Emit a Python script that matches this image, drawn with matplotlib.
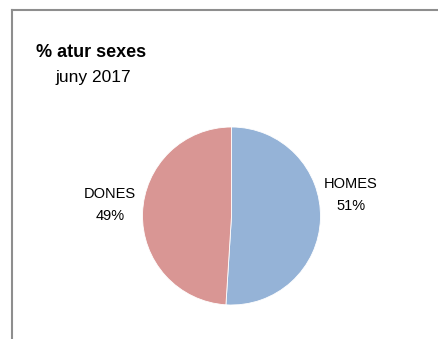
import matplotlib.pyplot as plt
from matplotlib.lines import Line2D

# data
categories = ['HOMES', 'DONES']
values = [51, 49]
colors = ['#95b3d7', '#d99694']
title = '% atur sexes'
subtitle = 'juny 2017'

W, H = 438, 339
plt.rcParams['font.family'] = ['Liberation Sans', 'DejaVu Sans']

fig = plt.figure(figsize=(W / 100, H / 100), dpi=100)

def fx(px):
    return px / W

def fy(py):
    return 1 - py / H

# chart frame (top and left edges only visible)
fig.add_artist(Line2D([fx(12), fx(W)], [fy(10), fy(10)], color='#8e8e8e', lw=1.5))
fig.add_artist(Line2D([fx(12), fx(12)], [fy(10), fy(H)], color='#8e8e8e', lw=1.5))

# pie
cx, cy, r = 231.5, 216, 89
ax = fig.add_axes([fx(cx - r), fy(cy + r), 2 * r / W, 2 * r / H])
wedges, _ = ax.pie(values, colors=colors, startangle=90, counterclock=False,
                   radius=1, wedgeprops=dict(edgecolor='white', linewidth=0.6))
ax.set_xlim(-1, 1)
ax.set_ylim(-1, 1)
ax.set_aspect('equal')
ax.axis('off')

# titles
fig.text(fx(36), fy(57), title, fontsize=13, fontweight='bold', va='baseline', ha='left')
fig.text(fx(55), fy(82), subtitle, fontsize=12.5, va='baseline', ha='left')

# data labels
label_pos = {'HOMES': (351, 188), 'DONES': (110, 198)}
total = sum(values)
for cat, val in zip(categories, values):
    x, y = label_pos[cat]
    fig.text(fx(x), fy(y), cat, fontsize=10.5, ha='center', va='baseline')
    fig.text(fx(x), fy(y + 22), f'{round(val / total * 100)}%', fontsize=10.5,
             ha='center', va='baseline')

fig.savefig('out.png', dpi=100)
